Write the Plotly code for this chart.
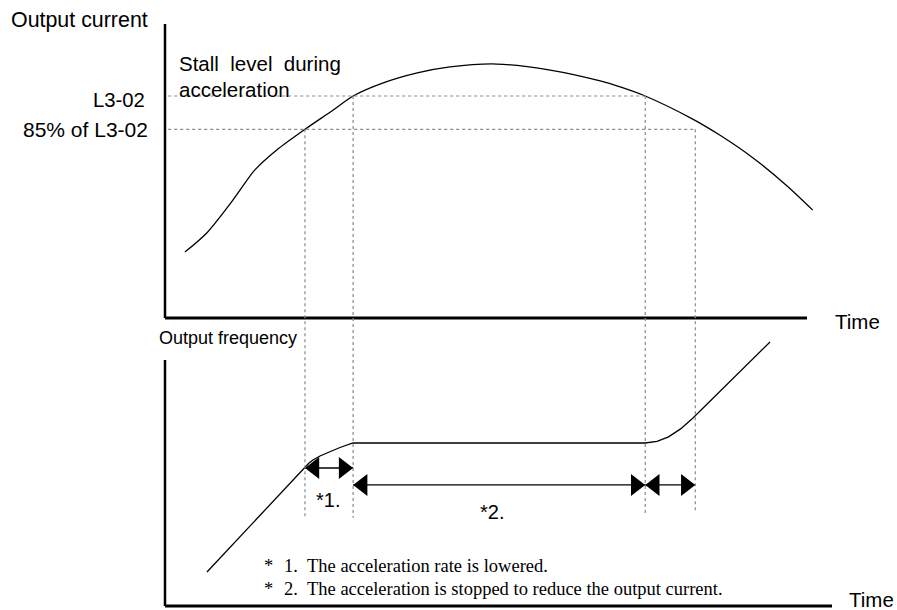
import plotly.graph_objects as go

# ---------------- data ----------------
# Output current curve: time (arbitrary units) vs current (% of L3-02)
time_current = [3.1, 6.5, 10.6, 14.0, 17.4, 21.8, 26.2, 29.3, 34.0, 39.3, 44.4,
                51.7, 60.0, 67.8, 70.9, 74.8, 82.2, 86.4, 91.6, 96.9, 100.9]
current = [29.7, 38.3, 53.2, 66.7, 75.7, 85.0, 93.7, 100.0, 105.9, 110.4, 113.1,
           114.4, 111.7, 106.8, 104.1, 100.0, 89.6, 82.4, 72.1, 59.5, 48.6]

# Output frequency curve
time_freq = [6.54, 21.81, 22.43, 23.05, 24.14, 25.23, 27.26, 29.28,
             74.77, 76.64, 78.43, 80.31, 82.24, 94.24]
freq = [13.82, 56.50, 58.13, 59.35, 60.98, 62.20, 64.43, 66.26,
        66.26, 66.91, 68.78, 71.99, 76.42, 107.32]

# Stall levels (% of L3-02)
level_labels = ["L3-02", "85% of L3-02"]
level_values = [100, 85]

# Event times: current crosses 85 % / 100 % going up, 100 % / 85 % going down
t_85_up, t_100_up, t_100_down, t_85_down = 21.8, 29.3, 74.8, 82.6
time_end_top = 100.0
time_end_bottom = 103.9

footnotes = ["The acceleration rate is lowered.",
             "The acceleration is stopped to reduce the output current."]

# ---------------- figure ----------------
W, H = 897, 610
SANS = "Arial, Liberation Sans, sans-serif"
SERIF = "Times New Roman, Liberation Serif, serif"
DOT = "#8a8a8a"

# axis scales (pixels per unit) and origins in page pixels
X0, XS = 165, 6.42               # time
Y0, YS = 318, 2.22               # current
F0, FS = 606, 2.46               # frequency

fig = go.Figure()

fig.add_trace(go.Scatter(x=time_current, y=current, mode="lines",
                         line=dict(color="black", width=1.3, shape="spline", smoothing=0.8),
                         xaxis="x", yaxis="y", hoverinfo="skip"))
fig.add_trace(go.Scatter(x=time_freq, y=freq, mode="lines",
                         line=dict(color="black", width=1.3),
                         xaxis="x", yaxis="y2", hoverinfo="skip"))

# arrows (shaft + filled heads)
arrows = [(t_85_up, t_100_up, 56.1), (t_100_up, t_100_down, 49.2), (t_100_down, t_85_down, 49.2)]
head = 19
off = head / 2 / XS
for a, b, yv in arrows:
    fig.add_trace(go.Scatter(x=[a, b], y=[yv, yv], mode="lines",
                             line=dict(color="black", width=1.3),
                             xaxis="x", yaxis="y2", hoverinfo="skip"))
    fig.add_trace(go.Scatter(x=[a + off, b - off], y=[yv, yv], mode="markers",
                             marker=dict(symbol=["triangle-left", "triangle-right"],
                                         size=head, color="black"),
                             xaxis="x", yaxis="y2", hoverinfo="skip"))

shapes = []
# axis lines
shapes.append(dict(type="line", xref="x", yref="y", x0=0, x1=0, y0=0, y1=132.4,
                   line=dict(color="black", width=2.5)))
shapes.append(dict(type="line", xref="x", yref="y", x0=0, x1=time_end_top, y0=0, y1=0,
                   line=dict(color="black", width=3)))
shapes.append(dict(type="line", xref="x", yref="y2", x0=0, x1=0, y0=0, y1=100,
                   line=dict(color="black", width=2.5)))
shapes.append(dict(type="line", xref="x", yref="y2", x0=0, x1=time_end_bottom, y0=0, y1=0,
                   line=dict(color="black", width=3)))
# dotted stall level lines
shapes.append(dict(type="line", xref="x", yref="y", x0=0.5, x1=t_100_down, y0=level_values[0], y1=level_values[0],
                   line=dict(color=DOT, width=1.2, dash="dot")))
shapes.append(dict(type="line", xref="x", yref="y", x0=0.5, x1=t_85_down, y0=level_values[1], y1=level_values[1],
                   line=dict(color=DOT, width=1.2, dash="dot")))
# dotted vertical event lines
for t, lv, yb in [(t_85_up, level_values[1], -90), (t_100_up, level_values[0], -90),
                  (t_100_down, level_values[0], -88), (t_85_down, level_values[1], -88)]:
    shapes.append(dict(type="line", xref="x", yref="y", x0=t, x1=t, y0=lv, y1=yb,
                       line=dict(color=DOT, width=1.2, dash="dot")))

ann = []
def ptext(text, px, py, anchor="left", size=20, family=SANS):
    ann.append(dict(text=text, x=px / W, y=1 - py / H,
                    xref="paper", yref="paper",
                    xanchor=anchor, yanchor="middle", showarrow=False,
                    font=dict(size=size, family=family, color="black")))

ptext("Output current", 9, 20, size=21.4)
ptext("Stall\u00a0 level\u00a0 during", 177, 63, size=20.5)
ptext("acceleration", 177, 90, size=20.5)
ann.append(dict(text=level_labels[0], x=-2.8, y=level_values[0], xref="x", yref="y",
                xanchor="right", yanchor="middle", yshift=-4, showarrow=False,
                font=dict(size=20.3, family=SANS, color="black")))
ann.append(dict(text=level_labels[1], x=-2.3, y=level_values[1], xref="x", yref="y",
                xanchor="right", yanchor="middle", showarrow=False,
                font=dict(size=21, family=SANS, color="black")))
ptext("Time", 833, 321, size=20.5)
ptext("Output frequency", 157, 338, size=18)
ptext("Time", 847, 599, size=20.5)
ann.append(dict(text="*1.", x=25.4, y=43.1, xref="x", yref="y2", showarrow=False,
                font=dict(size=20, family=SANS, color="black")))
ann.append(dict(text="*2.", x=50.9, y=38.2, xref="x", yref="y2", showarrow=False,
                font=dict(size=20, family=SANS, color="black")))
for i, (txt, py) in enumerate(zip(footnotes, [566, 589])):
    ptext("*", 262, py, size=18.5, family=SERIF)
    ptext(f"{i + 1}.", 282, py, size=18.5, family=SERIF)
    ptext(txt, 305, py, size=18.5, family=SERIF)

fig.update_layout(
    width=W, height=H, margin=dict(l=0, r=0, t=0, b=0),
    paper_bgcolor="white", plot_bgcolor="white", showlegend=False,
    xaxis=dict(range=[-X0 / XS, (W - X0) / XS], visible=False, fixedrange=True),
    yaxis=dict(range=[(Y0 - H) / YS, Y0 / YS], visible=False, fixedrange=True),
    yaxis2=dict(range=[(F0 - H) / FS, F0 / FS], visible=False, fixedrange=True,
                overlaying="y"),
    shapes=shapes, annotations=ann,
)

# remove the page's default 8px body margin so the figure fills the window exactly
fig.write_html("out.html", config={"displayModeBar": False},
               post_script="document.body.style.margin='0';document.body.style.overflow='hidden';")
